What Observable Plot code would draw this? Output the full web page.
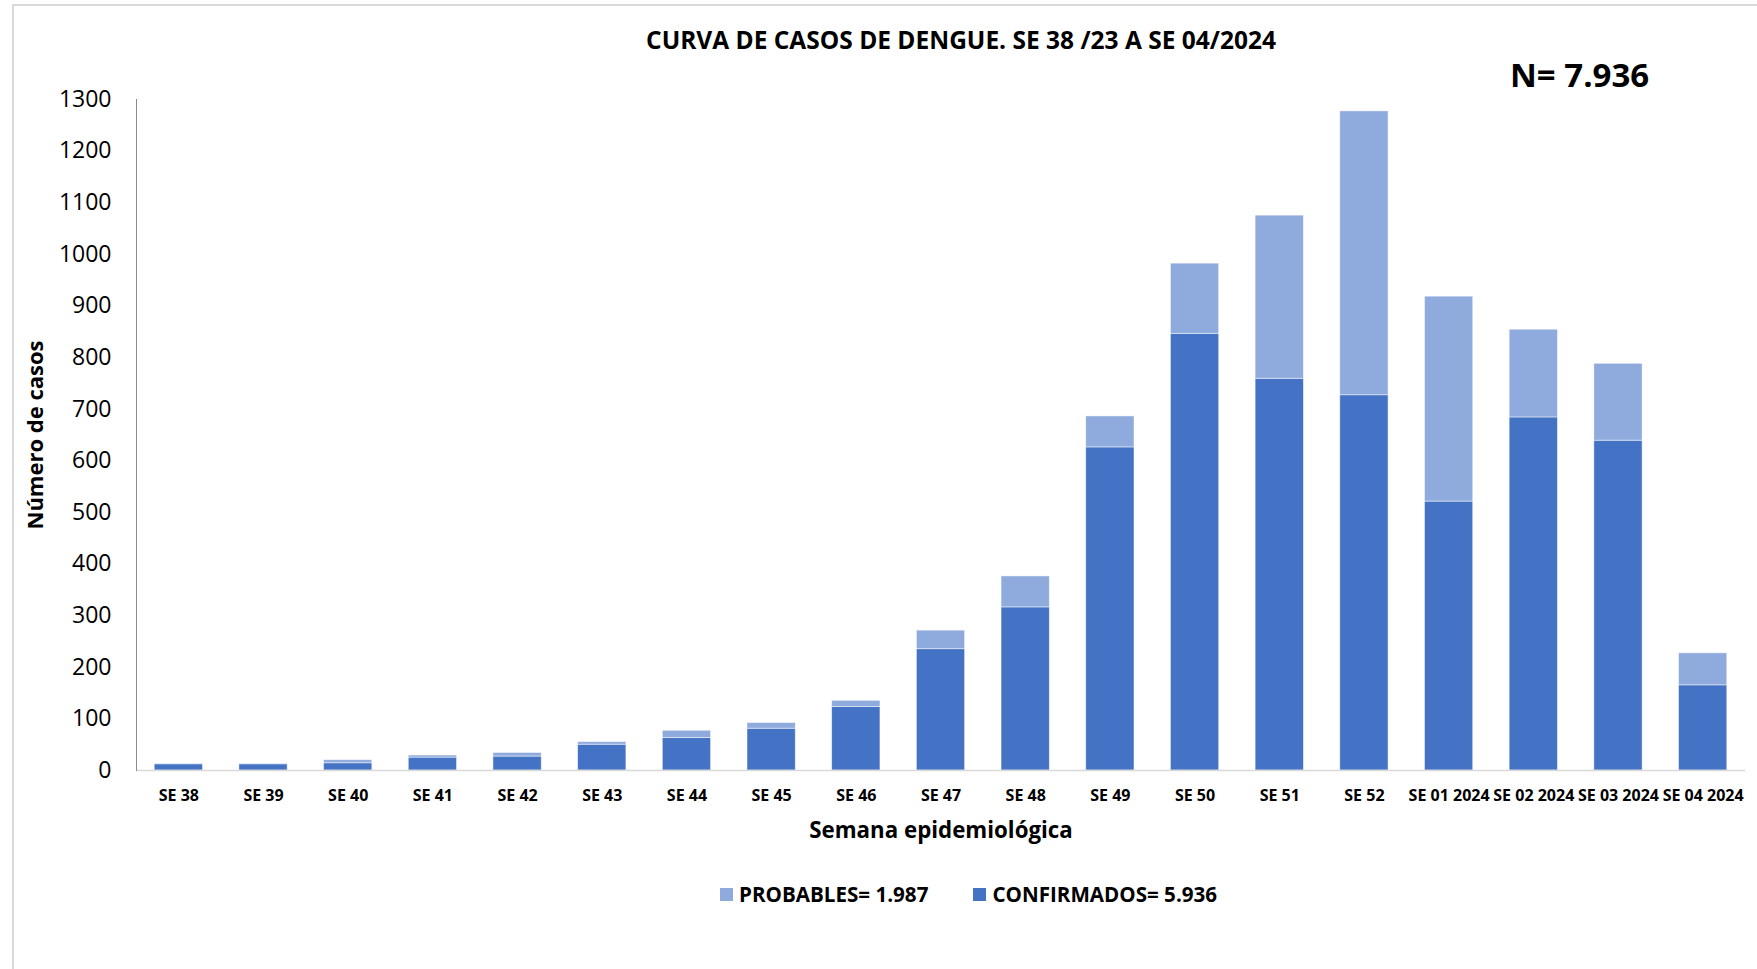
<!DOCTYPE html>
<html>
<head>
<meta charset="utf-8">
<script src="https://cdn.jsdelivr.net/npm/d3@7"></script>
<script src="https://cdn.jsdelivr.net/npm/@observablehq/plot@0.6"></script>
<style>
  html, body { margin: 0; padding: 0; background: #fff; }
  #wrap { position: relative; width: 1757px; height: 969px; overflow: hidden; font-family: "Open Sans", "Noto Sans", sans-serif; color: #000; }
  #border { position: absolute; left: 12px; top: 4px; width: 1800px; height: 1000px; border: 2px solid #d9d9d9; box-sizing: border-box; }
  #title { position: absolute; left: 0; top: 22px; width: 1757px; padding-left: 165px; box-sizing: border-box; text-align: center; font-weight: 700; font-size: 24.5px; line-height: 36px; }
  #ntotal { position: absolute; left: 1510px; top: 52px; font-weight: 700; font-size: 33px; line-height: 46px; z-index: 2; }
  #chart { position: absolute; left: 0; top: 60px; }
  #legend { position: absolute; left: 720px; top: 880px; display: flex; align-items: center; font-weight: 700; font-size: 20.6px; line-height: 28px; }
  .sw { display: inline-block; width: 13px; height: 13px; margin-right: 6px; }
  .item { display: flex; align-items: center; }
</style>
</head>
<body>
<div id="wrap">
  <div id="border"></div>
  <div id="title">CURVA DE CASOS DE DENGUE. SE 38 /23 A SE 04/2024</div>
  <div id="chart"></div>
  <div id="ntotal">N= 7.936</div>
  <div id="legend"></div>
</div>
<script>
const weeks = ["SE 38","SE 39","SE 40","SE 41","SE 42","SE 43","SE 44","SE 45","SE 46","SE 47","SE 48","SE 49","SE 50","SE 51","SE 52","SE 01 2024","SE 02 2024","SE 03 2024","SE 04 2024"];
const confirmados = [12, 12, 14, 25, 27, 50, 63, 81, 123, 235, 316, 626, 846, 759, 727, 521, 684, 639, 165];
const probables   = [1, 1, 6, 4, 7, 5, 14, 11, 12, 36, 60, 60, 136, 316, 550, 397, 170, 149, 62];
const series = ["PROBABLES", "CONFIRMADOS"];
const seriesColors = ["#8FAADC", "#4472C4"];
const legendLabels = ["PROBABLES= 1.987", "CONFIRMADOS= 5.936"];
const yTicks = [0,100,200,300,400,500,600,700,800,900,1000,1100,1200,1300];

const rows = weeks.flatMap((w, i) => [
  {week: w, tipo: "CONFIRMADOS", value: confirmados[i]},
  {week: w, tipo: "PROBABLES", value: probables[i]}
]);

const chart = Plot.plot({
  width: 1757,
  height: 800,
  marginTop: 39,
  marginBottom: 90,
  marginLeft: 136,
  marginRight: 12,
  style: {fontFamily: '"Open Sans", "Noto Sans", sans-serif', color: "#000", background: "transparent"},
  x: {domain: weeks, paddingInner: 0.43, paddingOuter: 0.215, round: false, label: null},
  y: {domain: [0, 1300], label: null},
  color: {domain: series, range: seriesColors},
  marks: [
    Plot.barY(rows, Plot.stackY({x: "week", y: "value", fill: "tipo", order: ["CONFIRMADOS", "PROBABLES"], stroke: "#ffffff", strokeWidth: 0.8, strokeOpacity: 0.6})),
    Plot.ruleY([0], {stroke: "#d9d9d9", strokeWidth: 1.5}),
    Plot.frame({anchor: "left", stroke: "#8c8c8c", strokeWidth: 1}),
    Plot.axisY({ticks: yTicks, tickFormat: d => String(d), tickSize: 0, tickPadding: 25, fontSize: 23, label: null}),
    Plot.axisX({tickSize: 0, tickPadding: 19, fontSize: 16, fontWeight: "bold", label: null}),
    Plot.text(["Número de casos"], {text: d => d, frameAnchor: "left", dx: -101, rotate: -90, textAnchor: "middle", lineAnchor: "middle", fontSize: 22, fontWeight: "bold", fill: "#000"}),
    Plot.text(["Semana epidemiológica"], {text: d => d, frameAnchor: "bottom", dy: 60, textAnchor: "middle", lineAnchor: "middle", fontSize: 22.3, fontWeight: "bold", fill: "#000"})
  ]
});
document.getElementById("chart").appendChild(chart);

const legend = document.getElementById("legend");
series.forEach((s, i) => {
  const item = document.createElement("div");
  item.className = "item";
  if (i > 0) item.style.marginLeft = "45px";
  const sw = document.createElement("span");
  sw.className = "sw";
  sw.style.background = seriesColors[i];
  const lb = document.createElement("span");
  lb.textContent = legendLabels[i];
  item.appendChild(sw);
  item.appendChild(lb);
  legend.appendChild(item);
});
</script>
</body>
</html>
